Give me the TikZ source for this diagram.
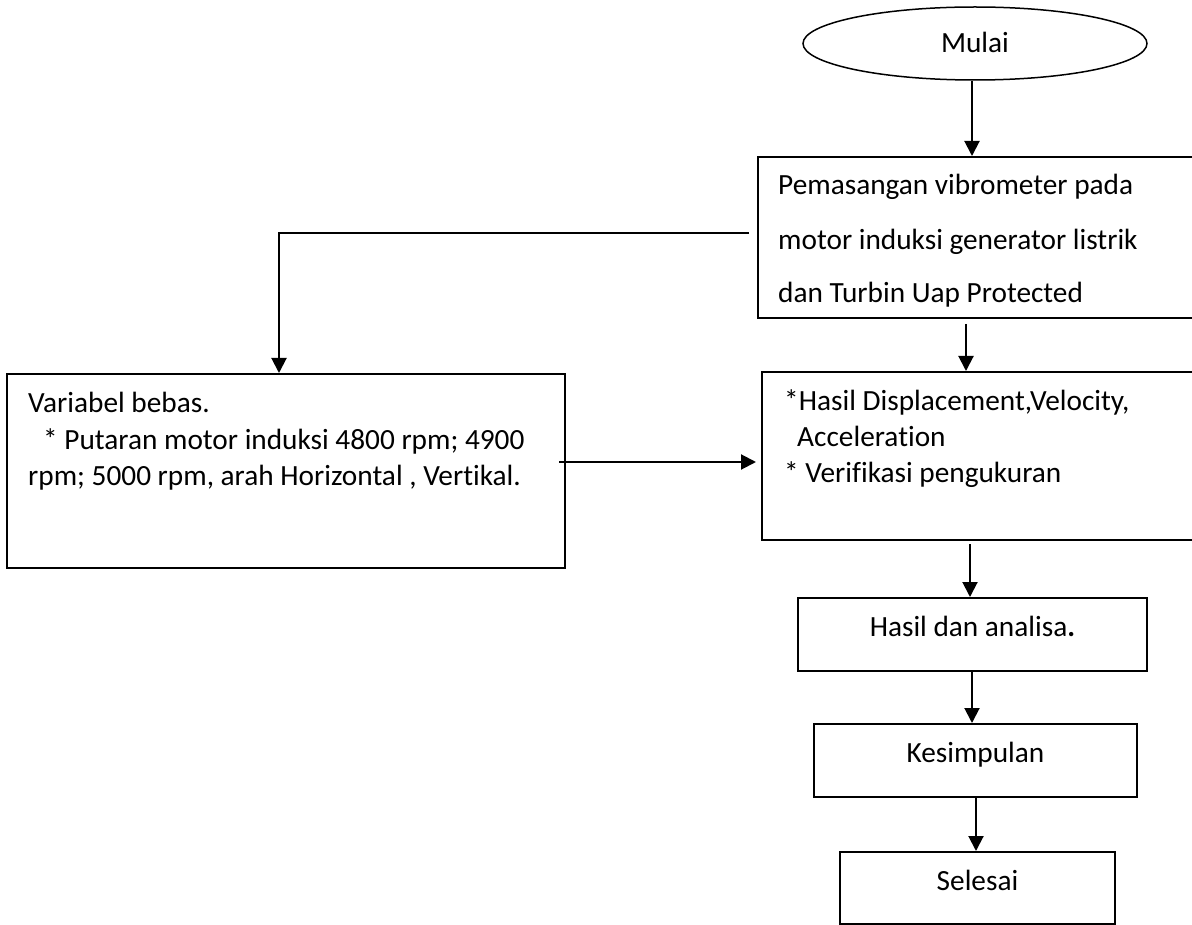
\documentclass[tikz,border=0pt]{standalone}
\usepackage{fontspec}
\setmainfont{Carlito}[Ligatures=NoCommon]
\usetikzlibrary{arrows.meta,shapes.geometric}
\begin{document}
\begin{tikzpicture}[x=1pt,y=-1pt,
  flowbox/.style={draw,line width=2pt,rectangle,inner sep=0pt},
  arr/.style={line width=2pt,-{Triangle[width=15pt,length=15pt]}},
  txt/.style={inner sep=0pt,anchor=base west,font=\fontsize{29.3}{35}\selectfont},
  ctxt/.style={inner sep=0pt,anchor=base,font=\fontsize{29.3}{35}\selectfont}]
\useasboundingbox (0,0) rectangle (1192,925);
\clip (0,0) rectangle (1192,925);
\fill[white] (0,0) rectangle (1192,925);
% shapes
\node[draw,ellipse,line width=1.5pt,inner sep=0pt,minimum width=344pt,minimum height=73pt] (start) at (975,43.5) {};
\node[flowbox,minimum width=442pt,minimum height=161pt] (box1) at (979,237.5) {};
\node[flowbox,minimum width=558pt,minimum height=194pt] (box2) at (286,471) {};
\node[flowbox,minimum width=438pt,minimum height=168pt] (box3) at (981,456) {};
\node[flowbox,minimum width=349pt,minimum height=73pt] (box4) at (972.5,634.5) {};
\node[flowbox,minimum width=323pt,minimum height=73pt] (box5) at (975.5,760.5) {};
\node[flowbox,minimum width=275pt,minimum height=72pt] (box6) at (977.5,888) {};
% texts
\node[ctxt] (tstart) at (975,53) {Mulai};
\node[txt] (t1a) at (778,195) {Pemasangan vibrometer pada};
\node[txt] (t1b) at (778,250) {motor induksi generator listrik};
\node[txt] (t1c) at (778,303) {dan Turbin Uap Protected};
\node[txt] (t2a) at (28,413) {Variabel bebas.};
\node[txt] (t2b) at (43,449) {* Putaran motor induksi 4800 rpm; 4900};
\node[txt] (t2c) at (28,485) {rpm; 5000 rpm, arah Horizontal , Vertikal.};
\node[txt] (t3a) at (784,410) {*Hasil Displacement,Velocity,};
\node[txt] (t3b) at (797,446) {Acceleration};
\node[txt] (t3c) at (784,482) {* Verifikasi pengukuran};
\node[ctxt] (t4) at (972.5,636) {Hasil dan analisa\textbf{.}};
\node[ctxt] (t5) at (975.5,762) {Kesimpulan};
\node[ctxt] (t6) at (977.5,890) {Selesai};
% connectors
\coordinate (b1l) at (749,233);
\coordinate (b2r) at (559,462);
\draw[arr] ([xshift=-3pt]start.south) -- ([xshift=-3pt]start.south |- box1.north);
\draw[arr] (b1l) -| ([xshift=-7pt]box2.north);
\draw[arr,shorten >=5pt] (b2r) -- (b2r -| box3.west);
\draw[arr] ([xshift=-13pt,yshift=-5pt]box1.south) -- ([xshift=-13pt]box1.south |- box3.north);
\draw[arr] ([xshift=-11pt,yshift=-3pt]box3.south) -- ([xshift=-11pt]box3.south |- box4.north);
\draw[arr] ([xshift=-0.5pt]box4.south) -- ([xshift=-0.5pt]box4.south |- box5.north);
\draw[arr] ([xshift=0.5pt]box5.south) -- ([xshift=0.5pt]box5.south |- box6.north);
\end{tikzpicture}
\end{document}
